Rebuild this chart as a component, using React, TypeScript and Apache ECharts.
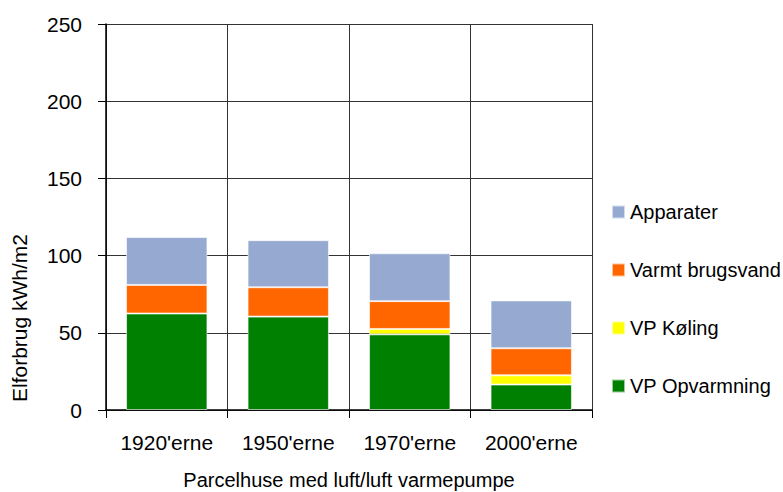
import React, { useEffect, useRef } from "react";
import * as echarts from "echarts";

const categories = ["1920'erne", "1950'erne", "1970'erne", "2000'erne"];
const vpOpvarmning = [62.5, 60.5, 49, 16.5];
const vpKoling = [0, 0, 3.5, 6];
const varmtBrugsvand = [18.5, 19, 18, 17.5];
const apparater = [31, 30.5, 31, 31];
const yTicks = [0, 50, 100, 150, 200, 250];

const FONT = "'Liberation Sans', Arial, sans-serif";
const FS = 21;

export default function App() {
  const ref = useRef<HTMLDivElement>(null);
  useEffect(() => {
    if (!ref.current) return;
    const chart = echarts.init(ref.current, undefined, { renderer: "svg", width: 783, height: 492 });
    const mk = (name: string, data: number[], color: string) => ({
      name,
      type: "bar" as const,
      stack: "total",
      barWidth: "67%",
      data,
      itemStyle: { color, borderColor: "rgba(255,255,255,0.6)", borderWidth: 1 },
    });
    chart.setOption({
      animation: false,
      textStyle: { fontFamily: FONT },
      grid: { left: 106, right: 191, top: 24, bottom: 82, containLabel: false, outerBoundsMode: "none" },
      legend: {
        orient: "vertical",
        left: 611,
        top: 200,
        padding: 0,
        itemWidth: 13,
        itemHeight: 13,
        itemGap: 34,
        icon: "rect",
        data: ["Apparater", "Varmt brugsvand", "VP Køling", "VP Opvarmning"],
        textStyle: { fontFamily: FONT, fontSize: 20, color: "#000", lineHeight: 24 },
      },
      xAxis: {
        type: "category",
        data: categories,
        boundaryGap: true,
        axisLine: { lineStyle: { color: "#000", width: 1.5 } },
        axisTick: { show: true, interval: 0, length: 8, inside: false, lineStyle: { color: "#000", width: 1 } },
        splitLine: { show: true, interval: 0, lineStyle: { color: "#333", width: 1 } },
        axisLabel: { interval: 0, fontFamily: FONT, fontSize: FS, color: "#000", margin: 22 },
        name: "Parcelhuse med luft/luft varmepumpe",
        nameLocation: "middle",
        nameGap: 60,
        nameTextStyle: { fontFamily: FONT, fontSize: 20, color: "#000" },
      },
      yAxis: {
        type: "value",
        min: yTicks[0],
        max: yTicks[yTicks.length - 1],
        interval: 50,
        axisLine: { show: true, lineStyle: { color: "#000", width: 1.5 } },
        axisTick: { show: true, length: 8, inside: false, lineStyle: { color: "#000", width: 1 } },
        splitLine: { show: true, lineStyle: { color: "#333", width: 1 } },
        axisLabel: { fontFamily: FONT, fontSize: FS, color: "#000", margin: 24 },
      },
      graphic: [
        {
          type: "text",
          x: 9,
          y: 318,
          rotation: Math.PI / 2,
          style: {
            text: "Elforbrug kWh/m2",
            font: `${FS}px ${FONT}`,
            fill: "#000",
            textAlign: "center",
            textVerticalAlign: "top",
          },
        },
      ],
      series: [
        mk("VP Opvarmning", vpOpvarmning, "#008000"),
        mk("VP Køling", vpKoling, "#FFFF00"),
        mk("Varmt brugsvand", varmtBrugsvand, "#FF6600"),
        mk("Apparater", apparater, "#95A9D1"),
      ],
    });
    return () => chart.dispose();
  }, []);
  return (
    <div
      ref={ref}
      style={{ position: "fixed", left: 0, top: 0, width: 783, height: 492, background: "#fff" }}
    />
  );
}
